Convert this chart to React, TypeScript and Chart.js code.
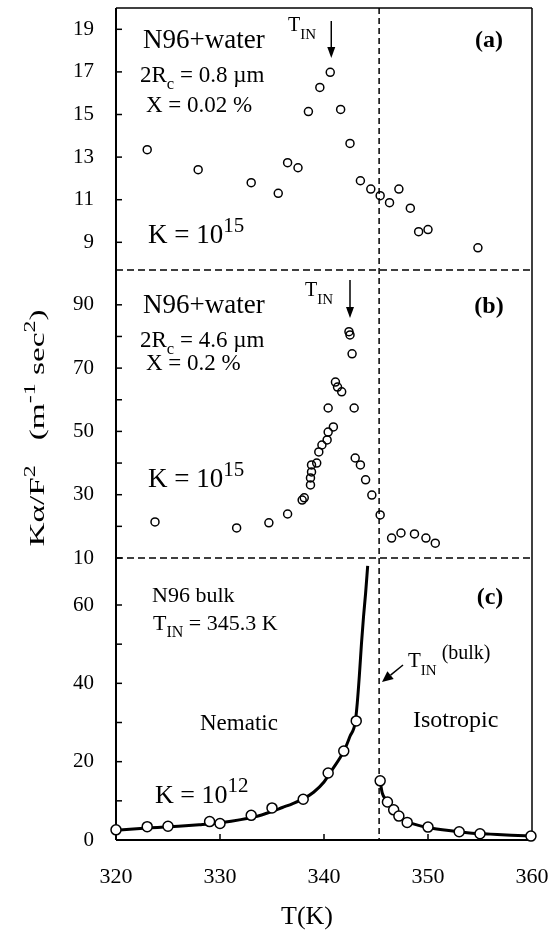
import { useEffect, useRef } from 'react';
import { Chart, registerables } from 'chart.js';
Chart.register(...registerables);

const SERIF = '"Liberation Serif", "Times New Roman", serif';

// ---- shared x axis ----
const xMin = 320;
const xMax = 360;
const xTicks = [320, 330, 340, 350, 360];
const tInBulk = 345.3;

// ---- panel (a): N96+water, 2Rc = 0.8 µm ----
const aMin = 7.7;
const aMax = 20;
const aTicks = [9, 11, 13, 15, 17, 19];
const aLabels = [9, 11, 13, 15, 17, 19];
const aTemp = [323.0, 327.9, 333.0, 335.6, 336.5, 337.5, 338.5, 339.6, 340.6, 341.6, 342.5, 343.5, 344.5, 345.4, 346.3, 347.2, 348.3, 349.1, 350.0, 354.8];
const aVal = [13.35, 12.41, 11.8, 11.3, 12.74, 12.5, 15.14, 16.27, 16.98, 15.24, 13.64, 11.89, 11.5, 11.19, 10.86, 11.5, 10.6, 9.5, 9.6, 8.74];
const aPeakT = 340.7;

// ---- panel (b): N96+water, 2Rc = 4.6 µm ----
const bMin = 10;
const bMax = 101;
const bTicks = [10, 20, 30, 40, 50, 60, 70, 80, 90];
const bLabels = [10, 30, 50, 70, 90];
const bTemp = [323.75, 331.6, 334.7, 336.5, 337.9, 338.1, 338.7, 338.7, 338.8, 338.8, 339.3, 339.5, 339.8, 340.3, 340.4, 340.9, 340.4, 341.1, 341.3, 341.7, 342.9, 342.4, 342.5, 342.7, 343.0, 343.5, 344.0, 344.6, 345.4, 346.5, 347.4, 348.7, 349.8, 350.7];
const bVal = [21.4, 19.5, 21.1, 23.9, 28.3, 29.0, 33.1, 35.3, 37.2, 39.4, 40.0, 43.5, 45.7, 47.3, 49.8, 51.4, 57.4, 65.6, 64.0, 62.5, 57.4, 81.5, 80.5, 74.5, 41.6, 39.4, 34.7, 29.9, 23.6, 16.3, 17.9, 17.6, 16.3, 14.7];
const bPeakT = 342.5;

// ---- panel (c): N96 bulk ----
const cMin = 0;
const cMax = 72;
const cTicks = [0, 10, 20, 30, 40, 50, 60];
const cLabels = [0, 20, 40, 60];
const cNemTemp = [320, 323, 325, 329, 330, 333, 335, 338, 340.4, 341.9, 343.1];
const cNemVal = [2.6, 3.4, 3.5, 4.7, 4.2, 6.3, 8.2, 10.4, 17.1, 22.7, 30.4];
const cIsoTemp = [345.4, 346.1, 346.7, 347.2, 348.0, 350.0, 353.0, 355.0, 359.9];
const cIsoVal = [15.1, 9.7, 7.7, 6.1, 4.5, 3.3, 2.1, 1.6, 1.0];
// fitted curves
const cNemFitT = [320, 322, 324, 326, 328, 330, 332, 334, 335, 336, 337, 338, 339, 340, 340.5, 341, 341.5, 342, 342.5, 343, 343.2, 343.4, 343.6, 343.8, 344.0, 344.2];
const cNemFitV = [2.5, 2.9, 3.2, 3.5, 3.9, 4.4, 5.2, 6.4, 7.3, 8.3, 9.3, 10.5, 12.2, 14.8, 16.8, 18.8, 20.8, 23.2, 26.5, 30.0, 35.0, 42.0, 50.0, 57.0, 63.0, 70.0];
const cIsoFitT = [345.4, 345.6, 346.0, 346.5, 347.0, 347.5, 348.0, 349.0, 350.0, 352.0, 354.0, 356.0, 358.0, 360.0];
const cIsoFitV = [15.0, 12.0, 10.2, 8.2, 6.6, 5.6, 4.7, 3.8, 3.2, 2.4, 1.8, 1.5, 1.2, 1.0];

type Seg = { t: string; k?: 'sup' | 'sub'; bold?: boolean; size?: number; dy?: number };

function rich(ctx: CanvasRenderingContext2D, x: number, y: number, segs: Seg[], size: number, measureOnly = false): number {
  let cx = x;
  for (const s of segs) {
    const fs = s.size ?? (s.k ? size * 0.72 : size);
    ctx.font = `${s.bold ? 'bold ' : ''}${fs}px ${SERIF}`;
    const dy = s.dy ?? (s.k === 'sup' ? -size * 0.42 : s.k === 'sub' ? size * 0.3 : 0);
    if (!measureOnly) ctx.fillText(s.t, cx, y + dy);
    cx += ctx.measureText(s.t).width;
  }
  return cx - x;
}

function arrow(ctx: CanvasRenderingContext2D, x1: number, y1: number, x2: number, y2: number, head = 11, half = 4) {
  const ang = Math.atan2(y2 - y1, x2 - x1);
  const bx = x2 - head * Math.cos(ang);
  const by = y2 - head * Math.sin(ang);
  ctx.beginPath();
  ctx.moveTo(x1, y1);
  ctx.lineTo(bx, by);
  ctx.stroke();
  ctx.beginPath();
  ctx.moveTo(x2, y2);
  ctx.lineTo(bx + half * Math.sin(ang), by - half * Math.cos(ang));
  ctx.lineTo(bx - half * Math.sin(ang), by + half * Math.cos(ang));
  ctx.closePath();
  ctx.fill();
}

const decor = {
  id: 'decor',
  beforeDatasetsDraw(chart: any) {
    const { ctx, chartArea: ca, scales } = chart;
    const x = scales.x, ya = scales.ya, yb = scales.yb, yc = scales.yc;
    const line = (x1: number, y1: number, x2: number, y2: number) => {
      ctx.beginPath(); ctx.moveTo(x1, y1); ctx.lineTo(x2, y2); ctx.stroke();
    };
    ctx.save();
    ctx.strokeStyle = '#000';
    ctx.lineWidth = 1.5;
    ctx.setLineDash([7, 4]);
    line(ca.left, ya.bottom, ca.right, ya.bottom);
    line(ca.left, yb.bottom, ca.right, yb.bottom);
    ctx.setLineDash([6, 4]);
    const xv = x.getPixelForValue(tInBulk);
    line(xv, ca.top, xv, ca.bottom);
    ctx.setLineDash([]);
    // frame
    ctx.lineWidth = 1.5;
    line(ca.left, ca.top, ca.right, ca.top);
    line(ca.right, ca.top, ca.right, ca.bottom);
    ctx.lineWidth = 2;
    line(ca.left, ca.top, ca.left, ca.bottom);
    line(ca.left, ca.bottom, ca.right, ca.bottom);
    // inward ticks
    ctx.lineWidth = 1.5;
    for (const v of aTicks) { const p = ya.getPixelForValue(v); line(ca.left, p, ca.left + 6, p); }
    for (const v of bTicks) { const p = yb.getPixelForValue(v); line(ca.left, p, ca.left + 6, p); }
    for (const v of cTicks) { const p = yc.getPixelForValue(v); line(ca.left, p, ca.left + 6, p); }
    for (const v of xTicks) { const p = x.getPixelForValue(v); line(p, ca.bottom, p, ca.bottom - 6); }
    ctx.restore();
  },
  afterDatasetsDraw(chart: any) {
    const { ctx, scales } = chart;
    const x = scales.x;
    ctx.save();
    ctx.fillStyle = '#000';
    ctx.strokeStyle = '#000';
    ctx.textAlign = 'left';
    ctx.textBaseline = 'alphabetic';

    // panel (a)
    rich(ctx, 143, 48, [{ t: 'N96+water' }], 27);
    rich(ctx, 140, 82, [{ t: '2R' }, { t: 'c', k: 'sub' }, { t: ' = 0.8 \u00b5m' }], 23);
    rich(ctx, 146, 112, [{ t: 'X = 0.02 %' }], 23);
    rich(ctx, 148, 243, [{ t: 'K = 10' }, { t: '15', k: 'sup', size: 21 }], 27);
    rich(ctx, 288, 31, [{ t: 'T' }, { t: 'IN', k: 'sub', size: 15, dy: 8 }], 20);
    ctx.lineWidth = 1.5;
    const pa = x.getPixelForValue(aPeakT);
    arrow(ctx, pa, 21, pa, 58);
    ctx.textAlign = 'center';
    ctx.font = `bold 24px ${SERIF}`;
    ctx.fillText('(a)', 489, 47);
    ctx.textAlign = 'left';

    // panel (b)
    rich(ctx, 143, 313, [{ t: 'N96+water' }], 27);
    rich(ctx, 140, 347, [{ t: '2R' }, { t: 'c', k: 'sub' }, { t: ' = 4.6 \u00b5m' }], 23);
    rich(ctx, 146, 370, [{ t: 'X = 0.2 %' }], 23);
    rich(ctx, 148, 487, [{ t: 'K = 10' }, { t: '15', k: 'sup', size: 21 }], 27);
    rich(ctx, 305, 296, [{ t: 'T' }, { t: 'IN', k: 'sub', size: 15, dy: 8 }], 20);
    const pb = x.getPixelForValue(bPeakT);
    arrow(ctx, pb, 280, pb, 318);
    ctx.textAlign = 'center';
    ctx.font = `bold 24px ${SERIF}`;
    ctx.fillText('(b)', 489, 313);
    ctx.fillText('(c)', 490, 604);
    ctx.textAlign = 'left';

    // panel (c)
    rich(ctx, 152, 602, [{ t: 'N96 bulk' }], 22);
    rich(ctx, 153, 630, [{ t: 'T' }, { t: 'IN', k: 'sub', size: 16, dy: 7 }, { t: ' = 345.3 K' }], 22);
    rich(ctx, 200, 730, [{ t: 'Nematic' }], 23);
    rich(ctx, 413, 727, [{ t: 'Isotropic' }], 24);
    rich(ctx, 155, 803, [{ t: 'K = 10' }, { t: '12', k: 'sup', size: 21 }], 26);
    rich(ctx, 408, 667, [{ t: 'T' }, { t: 'IN', k: 'sub', size: 15, dy: 8 }, { t: ' (bulk)', size: 20, dy: -8 }], 21);
    ctx.lineWidth = 1.5;
    arrow(ctx, 403, 665, 382, 682, 11, 5);

    // axis titles
    ctx.textAlign = 'center';
    ctx.font = `26px ${SERIF}`;
    ctx.fillText('T(K)', 307, 924);
    ctx.textAlign = 'left';

    const ySegs: Seg[] = [
      { t: 'K\u03b1/F' }, { t: '2', k: 'sup' }, { t: '   (m' }, { t: '-1', k: 'sup' }, { t: ' sec' }, { t: '2', k: 'sup' }, { t: ')' },
    ];
    const w = rich(ctx, 0, 0, ySegs, 22, true);
    ctx.translate(44, 428);
    ctx.rotate(-Math.PI / 2);
    ctx.scale(237 / w, 1);
    rich(ctx, -w / 2, 0, ySegs, 22);
    ctx.restore();
  },
};

const pts = (xs: number[], ys: number[]) => xs.map((t, i) => ({ x: t, y: ys[i] }));

const yScale = (min: number, max: number, ticks: number[], labels: number[], weight: number, stackWeight: number) => ({
  type: 'linear' as const,
  position: 'left' as const,
  stack: 'panels',
  stackWeight,
  weight,
  min,
  max,
  grid: { display: false, drawTicks: false },
  border: { display: false },
  ticks: {
    padding: 22,
    autoSkip: false,
    color: '#000',
    font: { size: 21, family: SERIF },
    callback: (v: any) => (labels.includes(Number(v)) ? String(v) : ''),
  },
  afterBuildTicks: (s: any) => { s.ticks = ticks.map((v) => ({ value: v })); },
  afterFit: (s: any) => {
    s.width = 116;
    s.paddingTop = 0; s.paddingBottom = 0; s.paddingLeft = 0; s.paddingRight = 0;
  },
});

export default function App() {
  const ref = useRef<HTMLCanvasElement>(null);
  useEffect(() => {
    if (!ref.current) return;
    const openPts = { showLine: false, pointRadius: 4, pointBorderWidth: 1.5, pointBorderColor: '#000', pointBackgroundColor: 'rgba(0,0,0,0)', order: 0, clip: false as const };
    const filledPts = { showLine: false, pointRadius: 5, pointBorderWidth: 1.5, pointBorderColor: '#000', pointBackgroundColor: '#fff', order: 0, clip: false as const };
    const curve = { showLine: true, pointRadius: 0, borderColor: '#000', borderWidth: 3, cubicInterpolationMode: 'monotone' as const, order: 2 };
    const chart = new Chart(ref.current, {
      type: 'scatter',
      data: {
        datasets: [
          { label: 'a', data: pts(aTemp, aVal), yAxisID: 'ya', ...openPts },
          { label: 'b', data: pts(bTemp, bVal), yAxisID: 'yb', ...openPts },
          { label: 'c nematic fit', data: pts(cNemFitT, cNemFitV), yAxisID: 'yc', ...curve },
          { label: 'c isotropic fit', data: pts(cIsoFitT, cIsoFitV), yAxisID: 'yc', ...curve },
          { label: 'c nematic', data: pts(cNemTemp, cNemVal), yAxisID: 'yc', ...filledPts },
          { label: 'c isotropic', data: pts(cIsoTemp, cIsoVal), yAxisID: 'yc', ...filledPts },
        ] as any,
      },
      options: {
        animation: false,
        responsive: false,
        devicePixelRatio: 1,
        events: [],
        layout: { padding: { left: 0, right: 18, top: 8, bottom: 0 } },
        plugins: { legend: { display: false }, tooltip: { enabled: false } },
        scales: {
          x: {
            type: 'linear',
            position: 'bottom',
            min: xMin,
            max: xMax,
            grid: { display: false, drawTicks: false },
            border: { display: false },
            ticks: { padding: 24, autoSkip: false, maxRotation: 0, color: '#000', font: { size: 22, family: SERIF } },
            afterBuildTicks: (s: any) => { s.ticks = xTicks.map((v) => ({ value: v })); },
            afterFit: (s: any) => {
              s.height = 91;
              s.paddingTop = 0; s.paddingBottom = 0; s.paddingLeft = 0; s.paddingRight = 0;
            },
          },
          yc: yScale(cMin, cMax, cTicks, cLabels, 1, 282),
          yb: yScale(bMin, bMax, bTicks, bLabels, 2, 288),
          ya: yScale(aMin, aMax, aTicks, aLabels, 3, 262),
        } as any,
      },
      plugins: [decor],
    });
    return () => chart.destroy();
  }, []);
  return (
    <div style={{ position: 'fixed', left: 0, top: 0, width: 550, height: 931, background: '#fff' }}>
      <canvas ref={ref} width={550} height={931} style={{ display: 'block' }} />
    </div>
  );
}
